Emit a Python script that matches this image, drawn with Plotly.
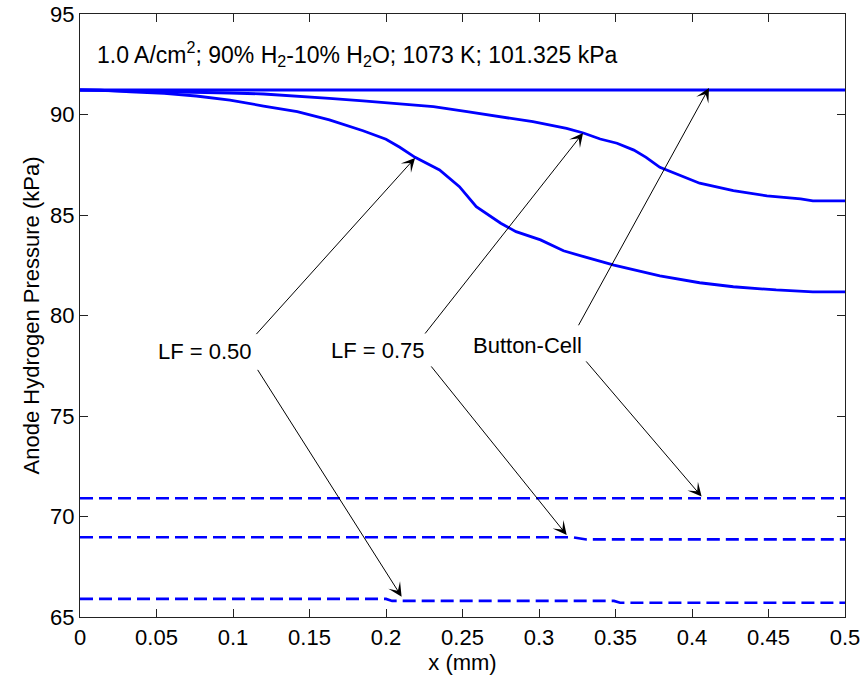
import plotly.graph_objects as go

# Anode hydrogen partial pressure along x for three cell configurations
bc_x = [0.0, 0.5]
bc_y = [91.22, 91.22]

lf75_x = [0.0, 0.030, 0.055, 0.098, 0.120, 0.142, 0.163, 0.185, 0.209, 0.231,
          0.253, 0.275, 0.296, 0.318, 0.329, 0.340, 0.351, 0.362, 0.370, 0.379,
          0.394, 0.405, 0.427, 0.449, 0.471, 0.479, 0.5]
lf75_y = [91.22, 91.18, 91.12, 91.07, 91.02, 90.92, 90.80, 90.68, 90.54, 90.39,
          90.14, 89.89, 89.64, 89.31, 89.08, 88.78, 88.57, 88.23, 87.87, 87.37,
          86.91, 86.58, 86.21, 85.95, 85.80, 85.70, 85.70]

lf50_x = [0.0, 0.013, 0.033, 0.055, 0.076, 0.098, 0.120, 0.142, 0.163, 0.185,
          0.200, 0.209, 0.219, 0.235, 0.248, 0.259, 0.275, 0.285, 0.301, 0.316,
          0.331, 0.349, 0.379, 0.405, 0.427, 0.455, 0.479, 0.5]
lf50_y = [91.22, 91.21, 91.13, 91.05, 90.92, 90.72, 90.42, 90.14, 89.73, 89.19,
          88.77, 88.37, 87.87, 87.24, 86.41, 85.41, 84.59, 84.17, 83.76, 83.22,
          82.89, 82.51, 81.97, 81.63, 81.43, 81.27, 81.18, 81.18]

# Dashed companion curves
bc_d_x = [0.0, 0.5]
bc_d_y = [70.91, 70.91]
lf75_d_x = [0.0, 0.322, 0.331, 0.5]
lf75_d_y = [68.97, 68.97, 68.86, 68.86]
lf50_d_x = [0.0, 0.200, 0.204, 0.349, 0.353, 0.5]
lf50_d_y = [65.90, 65.90, 65.80, 65.80, 65.71, 65.71]

# Labels and the curve points their arrows point at: (label, x, y, [(tail, tip), ...])
labels = [
    ("LF = 0.50", 0.0818, 78.20, [((0.1144, 79.00), (0.2190, 87.84)),
                                  ((0.1155, 77.37), (0.2102, 66.01))]),
    ("LF = 0.75", 0.1950, 78.28, [((0.2248, 79.03), (0.3288, 89.08)),
                                  ((0.2288, 77.54), (0.3181, 69.08))]),
    ("Button-Cell", 0.2925, 78.53, [((0.3253, 79.44), (0.4111, 91.32)),
                                    ((0.3300, 77.79), (0.4063, 70.99))]),
]

header = "1.0 A/cm<sup>2</sup>; 90% H<sub>2</sub>-10% H<sub>2</sub>O; 1073 K; 101.325 kPa"

BLUE = "#0000ff"
FONT = "Liberation Sans, Arial, sans-serif"
FS = 22

fig = go.Figure()
solid = dict(color=BLUE, width=2.8)
dashed = dict(color=BLUE, width=2.6, dash="13px,6px")
for xs, ys in [(bc_x, bc_y), (lf75_x, lf75_y), (lf50_x, lf50_y)]:
    fig.add_trace(go.Scatter(x=xs, y=ys, mode="lines", line=solid, showlegend=False))
for xs, ys in [(bc_d_x, bc_d_y), (lf75_d_x, lf75_d_y), (lf50_d_x, lf50_d_y)]:
    fig.add_trace(go.Scatter(x=xs, y=ys, mode="lines", line=dashed, showlegend=False))

annotations = [dict(x=0.0098, y=93.0, xref="x", yref="y", text=header, showarrow=False,
                    xanchor="left", yanchor="middle", font=dict(size=23, color="black"))]
for text, tx, ty, arrows in labels:
    annotations.append(dict(x=tx, y=ty, xref="x", yref="y", text=text, showarrow=False,
                            xanchor="center", yanchor="middle",
                            font=dict(size=FS, color="black")))
    for (ax_, ay_), (hx, hy) in arrows:
        annotations.append(dict(x=hx, y=hy, ax=ax_, ay=ay_, xref="x", yref="y",
                                axref="x", ayref="y", text="", showarrow=True,
                                arrowhead=3, arrowsize=2.3, arrowwidth=1,
                                arrowcolor="black", standoff=0, startstandoff=0))

axis_common = dict(showline=True, linecolor="#222222", linewidth=1.2, mirror="ticks",
                   ticks="inside", ticklen=8, tickcolor="#222222", tickwidth=1,
                   showgrid=False, zeroline=False, automargin=False,
                   tickfont=dict(size=FS, color="black"))

fig.update_layout(
    width=868, height=680, autosize=False,
    margin=dict(l=80, r=23, t=14, b=63),
    paper_bgcolor="white", plot_bgcolor="white",
    font=dict(family=FONT, size=FS, color="black"),
    xaxis=dict(range=[0, 0.5], tick0=0, dtick=0.05,
               title=dict(text="x (mm)", font=dict(size=FS), standoff=6),
               **axis_common),
    yaxis=dict(range=[65, 95], tick0=65, dtick=5,
               title=dict(text="Anode Hydrogen Pressure (kPa)", font=dict(size=FS), standoff=4),
               **axis_common),
    annotations=annotations,
)

fig.write_html("out.html")
